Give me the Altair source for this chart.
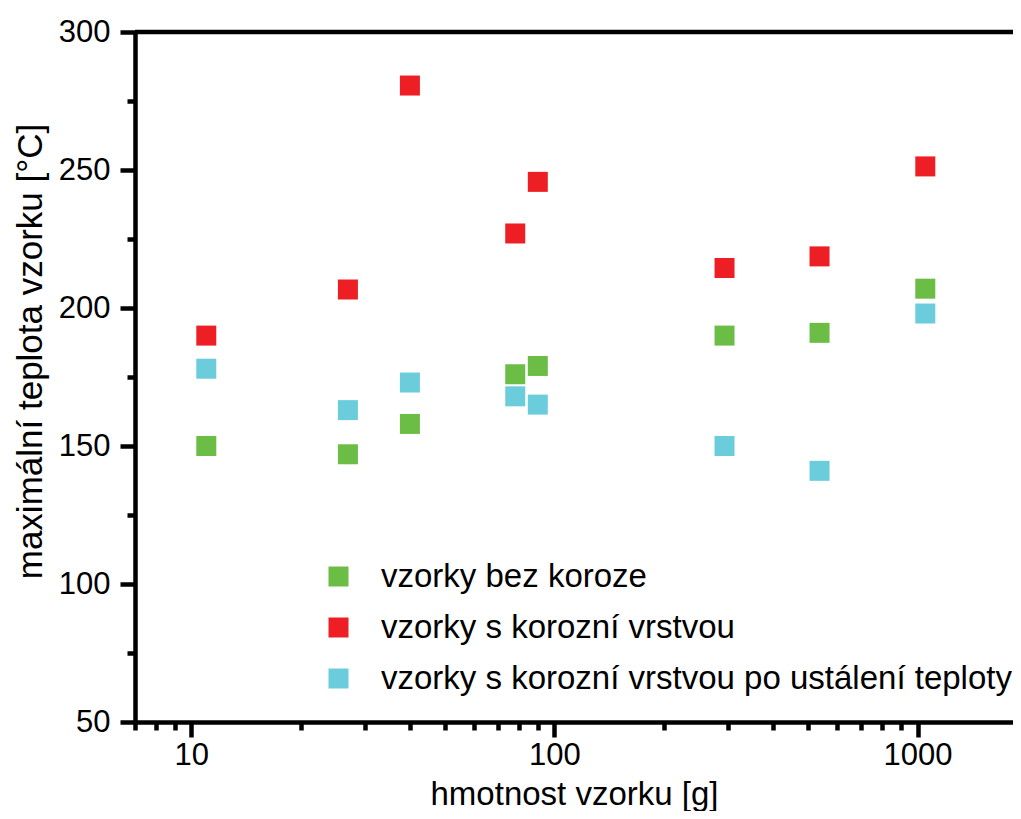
import altair as alt
import pandas as pd

# sample mass [g]
mass = [11, 27, 40, 78, 90, 294, 537, 1050]
# maximum sample temperature [°C]
bez_koroze = [150, 147, 158, 176, 179, 190, 191, 207]
s_korozi = [190, 206.7, 280.6, 227, 245.7, 214.5, 218.7, 251.3]
po_ustaleni = [178, 163, 173, 168, 165, 150, 141, 198]

series_names = [
    "vzorky bez koroze",
    "vzorky s korozní vrstvou",
    "vzorky s korozní vrstvou po ustálení teploty",
]
series_colors = ["#6CBD45", "#ED1E24", "#6BCDDC"]

x_ticks = [7, 8, 9, 10, 20, 30, 40, 50, 60, 70, 80, 90, 100,
           200, 300, 400, 500, 600, 700, 800, 900, 1000]
y_ticks = [50, 75, 100, 125, 150, 175, 200, 225, 250, 275, 300]

X_MIN, X_MAX = 7, 1831
Y_MIN, Y_MAX = 50, 300
W, H = 878, 690
FONT = "Liberation Sans"

rows = []
for name, vals in zip(series_names, [bez_koroze, s_korozi, po_ustaleni]):
    for m, v in zip(mass, vals):
        rows.append({"m": m, "t": v, "s": name})
df = pd.DataFrame(rows)

major_x = "datum.value == 10 || datum.value == 100 || datum.value == 1000"
major_y = "datum.value % 50 == 0"

points = alt.Chart(df).mark_point(shape="square", filled=True, size=400, opacity=1).encode(
    x=alt.X("m:Q",
            scale=alt.Scale(type="log", domain=[X_MIN, X_MAX], nice=False),
            axis=alt.Axis(
                values=x_ticks, format="d",
                labelExpr=f"({major_x}) ? datum.label : ''",
                title="hmotnost vzorku [g]",
                tickSize={"condition": {"test": major_x, "value": 15}, "value": 8},
                tickWidth=4.5, domainWidth=4.5, tickColor="black", domainColor="black",
                labelFontSize=31, labelFont=FONT, labelColor="black", labelPadding=3,
                labelOverlap=False, labelFlush=False, grid=False,
                titleFontSize=33, titleFont=FONT, titleFontWeight="normal", titleColor="black",
                titleBaseline="alphabetic", titleY=82,
            )),
    y=alt.Y("t:Q",
            scale=alt.Scale(domain=[Y_MIN, Y_MAX], nice=False, zero=False),
            axis=alt.Axis(
                values=y_ticks,
                labelExpr=f"({major_y}) ? datum.label : ''",
                title="maximální teplota vzorku [°C]",
                tickSize={"condition": {"test": major_y, "value": 15}, "value": 8},
                tickWidth=4.5, domainWidth=4.5, tickColor="black", domainColor="black",
                labelFontSize=31, labelFont=FONT, labelColor="black", labelPadding=10,
                labelOverlap=False, labelFlush=False, grid=False,
                titleFontSize=35, titleFont=FONT, titleFontWeight="normal", titleColor="black",
                titleAngle=-90, titleAlign="center", titleBaseline="alphabetic",
                titleX=-94, titleY=319,
            )),
    color=alt.Color("s:N",
                    scale=alt.Scale(domain=series_names, range=series_colors),
                    legend=alt.Legend(
                        title=None, orient="none", legendX=187, legendY=528,
                        symbolType="square", symbolSize=400, symbolStrokeWidth=0,
                        symbolOpacity=1, labelFontSize=33, labelFont=FONT,
                        labelColor="black", labelOffset=26, rowPadding=17,
                        padding=0, labelLimit=1000,
                    )),
)

top_frame = alt.Chart(pd.DataFrame({"t": [Y_MAX]})).mark_rule(
    color="black", strokeWidth=4.5
).encode(
    y="t:Q",
    x=alt.datum(X_MIN),
    x2=alt.datum(X_MAX),
)

chart = alt.layer(points, top_frame).properties(
    width=W, height=H,
    autosize=alt.AutoSizeParams(type="none"),
    padding={"left": 127, "top": 24, "right": 0, "bottom": 89},
).configure_view(stroke=None).configure(background="white")

chart.save("out.html", embed_options={"renderer": "svg", "actions": False})
